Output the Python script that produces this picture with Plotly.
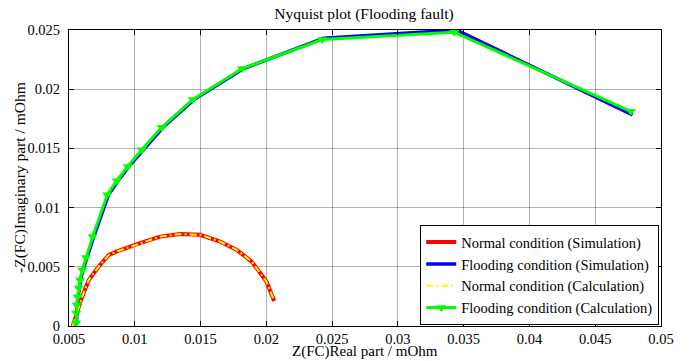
import plotly.graph_objects as go

# ---- data ----
normal_sim_re = [0.00528, 0.00546, 0.00561, 0.00599, 0.00650, 0.00726, 0.00802, 0.00875,
                 0.01040, 0.01192, 0.01344, 0.01496, 0.01648, 0.01775, 0.01889, 0.02001, 0.02060]
normal_sim_im = [0.00000, 0.00068, 0.00110, 0.00245, 0.00389, 0.00502, 0.00600, 0.00634,
                 0.00700, 0.00755, 0.00776, 0.00770, 0.00713, 0.00643, 0.00544, 0.00375, 0.00212]

normal_calc_re = normal_sim_re
normal_calc_im = normal_sim_im

flood_calc_re = [0.00555, 0.00555, 0.00559, 0.00566, 0.00574, 0.00584, 0.00601, 0.00629,
                 0.00680, 0.00791, 0.00863, 0.00946, 0.01053, 0.01205, 0.01440, 0.01817,
                 0.02425, 0.03428, 0.04771]
flood_calc_im = [0.00025, 0.00110, 0.00178, 0.00248, 0.00321, 0.00389, 0.00474, 0.00578,
                 0.00755, 0.01108, 0.01227, 0.01348, 0.01489, 0.01678, 0.01912, 0.02174,
                 0.02420, 0.02481, 0.01813]

flood_sim_re = [0.00557, 0.00558, 0.00562, 0.00569, 0.00578, 0.00588, 0.00606, 0.00635,
                0.00688, 0.00800, 0.00873, 0.00956, 0.01063, 0.01215, 0.01450, 0.01827,
                0.02435, 0.03445, 0.04784]
flood_sim_im = [0.00025, 0.00110, 0.00178, 0.00248, 0.00321, 0.00389, 0.00474, 0.00578,
                0.00755, 0.01108, 0.01227, 0.01348, 0.01489, 0.01678, 0.01912, 0.02174,
                0.02430, 0.02500, 0.01783]

x_ticks = [0.005, 0.01, 0.015, 0.02, 0.025, 0.03, 0.035, 0.04, 0.045, 0.05]
x_tick_labels = ["0.005", "0.01", "0.015", "0.02", "0.025", "0.03", "0.035", "0.04", "0.045", "0.05"]
y_ticks = [0, 0.005, 0.01, 0.015, 0.02, 0.025]
y_tick_labels = ["0", "0.005", "0.01", "0.015", "0.02", "0.025"]

TITLE = "Nyquist plot (Flooding fault)"
X_TITLE = "Z(FC)Real part / mOhm"
Y_TITLE = "-Z(FC)Imaginary part / mOhm"

FONT = "Liberation Serif"
TXT = 15.5
OFF = 8  # default page body margin in the saved HTML

fig = go.Figure()
fig.add_trace(go.Scatter(x=normal_sim_re, y=normal_sim_im, mode="lines",
                         name="Normal condition (Simulation)",
                         line=dict(color="#ff0000", width=4)))
fig.add_trace(go.Scatter(x=flood_sim_re, y=flood_sim_im, mode="lines",
                         name="Flooding condition (Simulation)",
                         line=dict(color="#0000ff", width=3.5)))
fig.add_trace(go.Scatter(x=normal_calc_re, y=normal_calc_im, mode="lines",
                         name="Normal condition (Calculation)",
                         line=dict(color="#ffff00", width=2, dash="7px,3px,2px,3px")))
fig.add_trace(go.Scatter(x=flood_calc_re, y=flood_calc_im, mode="lines+markers",
                         name="Flooding condition (Calculation)",
                         line=dict(color="#00ff00", width=3),
                         marker=dict(symbol="triangle-down", size=9, color="#00ff00")))

axis_common = dict(showline=True, linecolor="black", linewidth=1, mirror="ticks",
                   ticks="inside", ticklen=5, tickcolor="black", automargin=False,
                   showgrid=True, gridcolor="rgba(0,0,0,0.3)", gridwidth=1,
                   zeroline=False, tickfont=dict(family=FONT, size=14.5, color="black"))

fig.update_xaxes(range=[0.005, 0.05], tickvals=x_ticks, ticktext=x_tick_labels, **axis_common)
fig.update_yaxes(range=[0, 0.025], tickvals=y_ticks, ticktext=y_tick_labels,
                 ticklabelstandoff=5, **axis_common)

# target plot area on the page: x 69..661, y 30..326
PW, PH = 592, 296
fig.add_annotation(text=X_TITLE, xref="paper", yref="paper",
                   x=(365 - 69) / PW, y=-(351 - 326) / PH, xanchor="center", yanchor="middle",
                   showarrow=False, font=dict(family=FONT, size=15, color="black"))
fig.add_annotation(text=Y_TITLE, xref="paper", yref="paper", textangle=-90,
                   x=-(69 - 20) / PW, y=0.5, xanchor="center", yanchor="middle",
                   showarrow=False, font=dict(family=FONT, size=TXT, color="black"))

W, H = 692, 361
ml, mt = 69 - OFF, 30 - OFF
fig.update_layout(
    width=W, height=H,
    margin=dict(l=ml, r=W - ml - PW, t=mt, b=H - mt - PH, pad=0, autoexpand=False),
    paper_bgcolor="white", plot_bgcolor="white",
    title=dict(text=TITLE, x=(364 - OFF) / W, xanchor="center",
               y=1.0, yanchor="top", yref="container", automargin=False,
               pad=dict(t=0, b=0, l=0, r=0),
               font=dict(family=FONT, size=TXT, color="black")),
    legend=dict(x=0.997, y=0.003, xanchor="right", yanchor="bottom",
                bgcolor="white", bordercolor="black", borderwidth=1,
                font=dict(family=FONT, size=14.5, color="black"),
                tracegroupgap=0, itemwidth=30),
    showlegend=True,
)

fig.write_html("out.html")
